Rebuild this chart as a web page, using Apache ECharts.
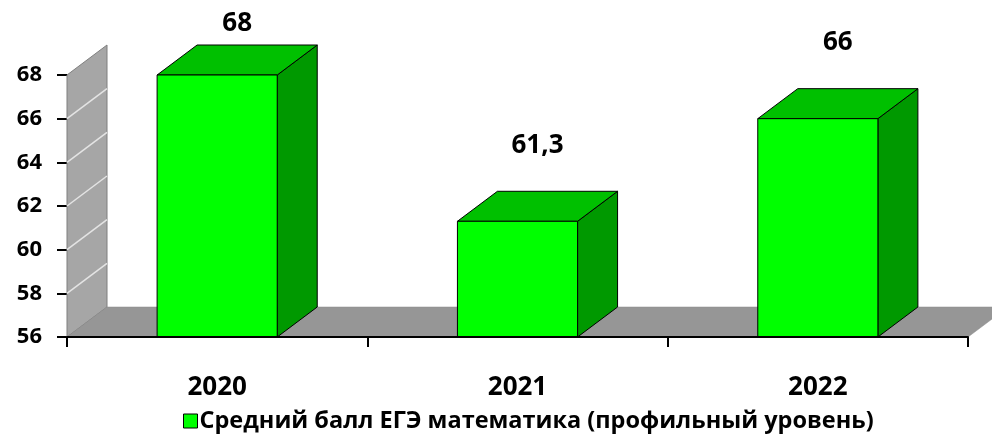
<!DOCTYPE html>
<html>
<head>
<meta charset="utf-8">
<script src="https://cdn.jsdelivr.net/npm/echarts@6/dist/echarts.min.js"></script>
<style>
html,body{margin:0;padding:0;background:#fff;}
#chart{width:992px;height:434px;}
</style>
</head>
<body>
<div id="chart"></div>
<script>
// ---- data ----
const categories = ['2020', '2021', '2022'];
const values = [68, 61.3, 66];
const yMin = 56;
const yMax = 68;
const yStep = 2;
const seriesName = 'Средний балл ЕГЭ математика (профильный уровень)';

// ---- style constants ----
const DX = 40, DY = -30;            // 3D depth offset (px)
const BAR_RATIO = 0.4;              // front face width / category band
const FONT = "'Open Sans', 'Noto Sans', sans-serif";

const chart = echarts.init(document.getElementById('chart'), null, {renderer: 'canvas'});

function fmt(v) { return String(v).replace('.', ','); }

function renderScene(params, api) {
  const cs = params.coordSys;
  const x0 = cs.x, x1 = cs.x + cs.width;
  const yb = api.coord([0, yMin])[1];
  const yt = api.coord([0, yMax])[1];
  const children = [];
  children.push({
    type: 'polygon',
    shape: {points: [[x0, yb], [x0, yt], [x0 + DX, yt + DY], [x0 + DX, yb + DY]]},
    style: {fill: '#A6A6A6', stroke: '#7F7F7F', lineWidth: 1}
  });
  children.push({
    type: 'polygon',
    shape: {points: [[x0, yb], [x1, yb], [x1 + DX, yb + DY], [x0 + DX, yb + DY]]},
    style: {fill: '#969696', stroke: '#888888', lineWidth: 0.5}
  });
  for (let v = yMin + yStep; v < yMax; v += yStep) {
    const y = api.coord([0, v])[1];
    children.push({
      type: 'line',
      shape: {x1: x0, y1: y, x2: x0 + DX, y2: y + DY},
      style: {stroke: '#E4E4E4', lineWidth: 1.5}
    });
  }
  return {type: 'group', children: children};
}

function renderBar(params, api) {
  const idx = api.value(0);
  const v = api.value(1);
  const top = api.coord([idx, v]);
  const base = api.coord([idx, yMin]);
  const w = api.size([1, 0])[0] * BAR_RATIO;
  const xl = top[0] - w / 2, xr = top[0] + w / 2;
  const yt = top[1], yb = base[1];
  const stroke = {stroke: '#000', lineWidth: 1};
  return {
    type: 'group',
    children: [
      {type: 'polygon', shape: {points: [[xr, yt], [xr + DX, yt + DY], [xr + DX, yb + DY], [xr, yb]]},
       style: Object.assign({fill: '#009900'}, stroke)},
      {type: 'polygon', shape: {points: [[xl, yt], [xr, yt], [xr + DX, yt + DY], [xl + DX, yt + DY]]},
       style: Object.assign({fill: '#00C000'}, stroke)},
      {type: 'rect', shape: {x: xl, y: yt, width: w, height: yb - yt},
       style: Object.assign({fill: '#00FF00'}, stroke)},
      {type: 'text',
       style: {
         text: fmt(v),
         x: top[0] + DX / 2,
         y: Math.max(24, yt + DY - 46),
         fill: '#000',
         fontSize: 26,
         fontWeight: 'bold',
         fontFamily: FONT,
         align: 'center',
         verticalAlign: 'middle'
       }}
    ]
  };
}

const option = {
  backgroundColor: '#fff',
  animation: false,
  grid: {left: 67, right: 24, top: 75, bottom: 97},
  legend: {
    data: [seriesName],
    left: 183,
    top: 409,
    padding: 0,
    icon: 'rect',
    itemWidth: 14,
    itemHeight: 14,
    itemStyle: {color: '#00FF00', borderColor: '#000', borderWidth: 1},
    textStyle: {fontSize: 23.5, fontWeight: 'bold', color: '#000', fontFamily: FONT, padding: [0, 0, 0, -3]}
  },
  xAxis: {
    type: 'category',
    data: categories,
    z: 10,
    axisLine: {lineStyle: {color: '#000', width: 2}},
    axisTick: {show: true, length: 10, lineStyle: {color: '#000', width: 2}},
    axisLabel: {margin: 38, fontSize: 26, fontWeight: 'bold', color: '#000', fontFamily: FONT},
    splitLine: {show: false}
  },
  yAxis: {
    type: 'value',
    min: yMin,
    max: yMax,
    interval: yStep,
    axisLine: {show: true, lineStyle: {color: '#7F7F7F', width: 1}},
    axisTick: {show: true, length: 10, lineStyle: {color: '#000', width: 2}},
    axisLabel: {margin: 25, fontSize: 22, fontWeight: 'bold', color: '#000', fontFamily: FONT},
    splitLine: {show: false}
  },
  series: [
    {
      name: 'scene',
      type: 'custom',
      clip: false,
      silent: true,
      z: 1,
      renderItem: renderScene,
      data: [[0, yMin]]
    },
    {
      name: seriesName,
      type: 'custom',
      clip: false,
      z: 3,
      itemStyle: {color: '#00FF00', borderColor: '#000', borderWidth: 1},
      renderItem: renderBar,
      data: categories.map((c, i) => [i, values[i]])
    }
  ]
};
chart.setOption(option);
</script>
</body>
</html>
